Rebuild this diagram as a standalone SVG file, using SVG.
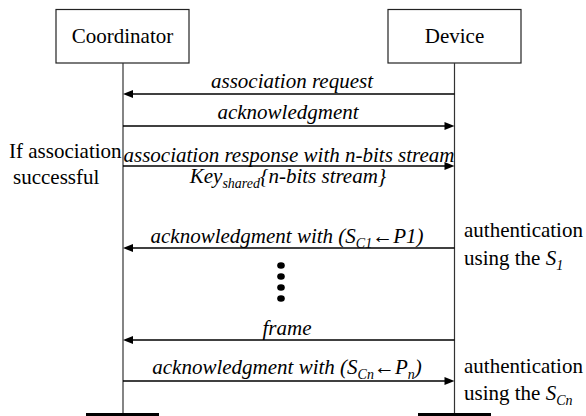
<svg xmlns="http://www.w3.org/2000/svg" width="586" height="416" viewBox="0 0 586 416">
<style>
svg text, svg tspan { font-family: 'Liberation Serif', 'Times New Roman', Tinos, serif !important; }
.ln { stroke: #000; stroke-width: 1.5; }
.life { stroke: #333; stroke-width: 1.2; }
.bar { stroke: #000; stroke-width: 3; }
.box { fill: #fff; stroke: #222; stroke-width: 1.2; }
</style>
<defs>
<polygon id="ahR" points="0,0 -10,-4 -10,4" fill="#000"/>
<polygon id="ahL" points="0,0 10,-4 10,4" fill="#000"/>
</defs>
<rect width="586" height="416" fill="#fff"/>
<g id="coordinator">
<rect class="box" x="56" y="9.5" width="133" height="53.5"/>
<text x="122.5" y="43" text-anchor="middle" style="font-family:'Liberation Serif',serif;font-size:21px">Coordinator</text>
<line class="life" x1="123" y1="63" x2="123" y2="414"/>
<line class="bar" x1="86" y1="414.5" x2="159" y2="414.5"/>
</g>
<g id="device">
<rect class="box" x="388" y="9.5" width="133" height="53.5"/>
<text x="454.5" y="43" text-anchor="middle" style="font-family:'Liberation Serif',serif;font-size:21px">Device</text>
<line class="life" x1="454.5" y1="63" x2="454.5" y2="414"/>
<line class="bar" x1="418" y1="414.5" x2="491" y2="414.5"/>
</g>
<g id="connectors">
<line class="ln" x1="454.5" y1="94" x2="131" y2="94"/>
<use href="#ahL" x="123" y="94"/>
<line class="ln" x1="123" y1="126" x2="446" y2="126"/>
<use href="#ahR" x="454.5" y="126"/>
<line class="ln" x1="123" y1="166" x2="446" y2="166"/>
<use href="#ahR" x="454.5" y="166"/>
<line class="ln" x1="454.5" y1="248" x2="131" y2="248"/>
<use href="#ahL" x="123" y="248"/>
<line class="ln" x1="454.5" y1="340" x2="131" y2="340"/>
<use href="#ahL" x="123" y="340"/>
<line class="ln" x1="123" y1="381" x2="446" y2="381"/>
<use href="#ahR" x="454.5" y="381"/>
</g>
<g id="labels">
<text x="292" y="87.5" text-anchor="middle" style="font-family:'Liberation Serif',serif;font-size:21px;font-style:italic">association request</text>
<text x="288" y="118.5" text-anchor="middle" style="font-family:'Liberation Serif',serif;font-size:21px;font-style:italic">acknowledgment</text>
<text x="289" y="161.5" text-anchor="middle" style="font-family:'Liberation Serif',serif;font-size:21px;font-style:italic">association response with n-bits stream</text>
<text x="288" y="183" text-anchor="middle" style="font-family:'Liberation Serif',serif;font-size:21px;font-style:italic">Key<tspan style="font-size:14px" dy="5">shared</tspan><tspan dy="-5">{n-bits stream}</tspan></text>
<text x="287" y="242.5" text-anchor="middle" style="font-family:'Liberation Serif',serif;font-size:21px;font-style:italic">acknowledgment with (S<tspan style="font-size:14px" dy="5">C1</tspan><tspan dy="-5" style="font-style:normal">←</tspan>P1)</text>
<text x="287" y="335" text-anchor="middle" style="font-family:'Liberation Serif',serif;font-size:21px;font-style:italic">frame</text>
<text x="287" y="374" text-anchor="middle" style="font-family:'Liberation Serif',serif;font-size:21px;font-style:italic">acknowledgment with (S<tspan style="font-size:14px" dy="5">Cn</tspan><tspan dy="-5" style="font-style:normal">←</tspan>P<tspan style="font-size:14px" dy="5">n</tspan><tspan dy="-5">)</tspan></text>
</g>
<g id="notes">
<text x="9" y="158" style="font-family:'Liberation Serif',serif;font-size:21px">If association</text>
<text x="13" y="184" style="font-family:'Liberation Serif',serif;font-size:21px">successful</text>
<text x="464" y="237" style="font-family:'Liberation Serif',serif;font-size:21px">authentication</text>
<text x="464" y="265" style="font-family:'Liberation Serif',serif;font-size:21px">using the <tspan style="font-style:italic">S</tspan><tspan style="font-size:14px;font-style:italic" dy="5">1</tspan></text>
<text x="464" y="373" style="font-family:'Liberation Serif',serif;font-size:21px">authentication</text>
<text x="464" y="400" style="font-family:'Liberation Serif',serif;font-size:21px">using the <tspan style="font-style:italic">S</tspan><tspan style="font-size:14px;font-style:italic" dy="5">Cn</tspan></text>
</g>
<g id="ellipsis" fill="#000">
<ellipse cx="281" cy="265.5" rx="3.8" ry="3.3"/>
<ellipse cx="281" cy="276.5" rx="3.8" ry="3.3"/>
<ellipse cx="281" cy="287.5" rx="3.8" ry="3.3"/>
<ellipse cx="281" cy="298.5" rx="3.8" ry="3.3"/>
</g>
</svg>
